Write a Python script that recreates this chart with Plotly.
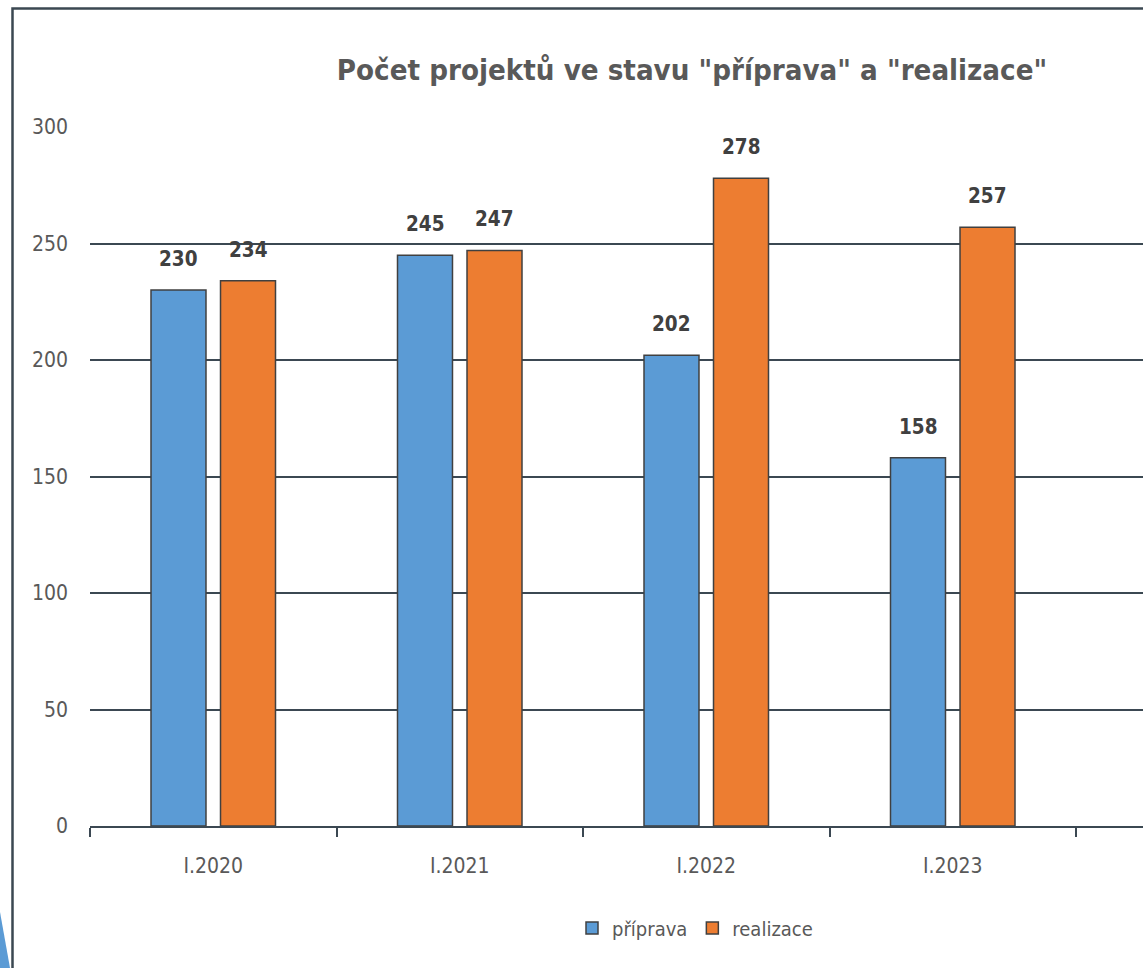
import plotly.graph_objects as go

categories = ["I.2020", "I.2021", "I.2022", "I.2023"]
priprava = [230, 245, 202, 158]
realizace = [234, 247, 278, 257]
series_names = ["příprava", "realizace"]
title_text = 'Počet projektů ve stavu "příprava" a "realizace"'
y_ticks = [0, 50, 100, 150, 200, 250, 300]

FONT = "Liberation Sans Narrow, DejaVu Sans Condensed, Open Sans, sans-serif"
BLUE = "#5b9bd5"
ORANGE = "#ed7d31"
OUTLINE = "#404040"
GRID = "#3b4852"

W, H = 1143, 968
L, R, T, B = 90, 0, 127, 142
plot_w = W - L - R
plot_h = H - T - B
cat_px = 246.5

fig = go.Figure()
fig.add_trace(go.Bar(x=categories, y=priprava, name=series_names[0],
                     marker=dict(color=BLUE, line=dict(color=OUTLINE, width=1.5))))
fig.add_trace(go.Bar(x=categories, y=realizace, name=series_names[1],
                     marker=dict(color=ORANGE, line=dict(color=OUTLINE, width=1.5))))

# data labels
offset = 34.75
for vals, sh in ((priprava, -offset), (realizace, offset)):
    for c, v in zip(categories, vals):
        fig.add_annotation(x=c, y=v, text=f"<b>{v}</b>", showarrow=False,
                           xshift=sh, yshift=31, yanchor="middle",
                           font=dict(family=FONT, size=20.5, color="#404040"))

px = lambda x: (x - L) / plot_w
py = lambda y: (H - B - y) / plot_h

# chart border (left and top)
fig.add_shape(type="path", xref="paper", yref="paper",
              path=f"M {px(12.5)} {py(H)} L {px(12.5)} {py(8.5)} L {px(W)} {py(8.5)}",
              line=dict(color=GRID, width=2.5))
# decorative blue triangle at bottom-left
fig.add_shape(type="path", xref="paper", yref="paper",
              path=f"M {px(0)} {py(912)} L {px(10)} {py(H)} L {px(0)} {py(H)} Z",
              fillcolor=BLUE, line=dict(width=0))

x_max = -0.5 + plot_w / cat_px

fig.update_layout(
    width=W, height=H, autosize=False,
    margin=dict(l=L, r=R, t=T, b=B),
    paper_bgcolor="white", plot_bgcolor="white",
    barmode="group", bargap=0.436, bargroupgap=0.209,
    title=dict(text=f"<b>{title_text}</b>", xref="container", x=692 / W, xanchor="center",
               yref="container", y=1 - 70 / H, yanchor="middle",
               font=dict(family=FONT, size=29.2, color="#595959")),
    legend=dict(orientation="h", x=px(695), xanchor="center", y=py(928), yanchor="middle",
                font=dict(family=FONT, size=20, color="#595959"),
                itemwidth=30, tracegroupgap=0),
    showlegend=True,
    font=dict(family=FONT),
)
fig.update_xaxes(type="category", range=[-0.5, x_max], tickson="boundaries",
                 ticks="outside", ticklen=9, tickwidth=2, tickcolor=GRID,
                 showline=True, linecolor=GRID, linewidth=2,
                 showgrid=False, tickfont=dict(family=FONT, size=21, color="#595959"),
                 ticklabelstandoff=20)
fig.update_yaxes(range=[0, 300], tickvals=y_ticks, showgrid=True, gridcolor=GRID, gridwidth=2,
                 zeroline=False, showline=False, ticks="",
                 tickfont=dict(family=FONT, size=21, color="#595959"),
                 ticklabelstandoff=21)

fig.write_html("out.html", config={"displayModeBar": False},
               post_script="document.body.style.margin='0';document.body.style.overflow='hidden';")
